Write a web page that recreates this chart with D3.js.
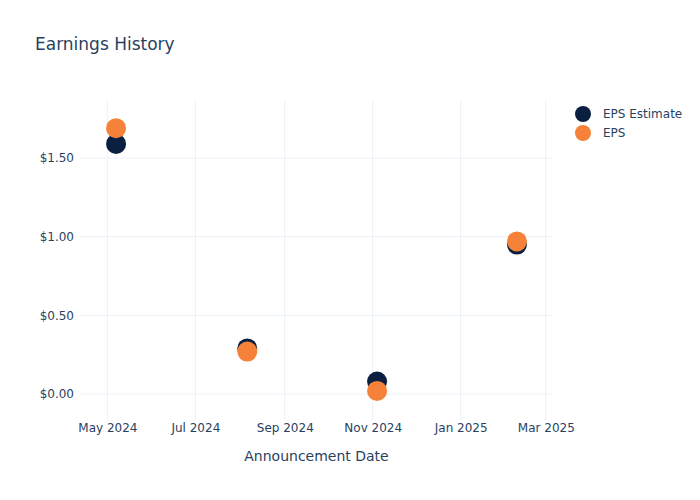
<!DOCTYPE html>
<html>
<head>
    <title>Earnings History - D3.js</title>
    <script src="https://d3js.org/d3.v7.min.js"></script>
    <style>
        body { margin: 0; background: #fff; }
        svg text { font-family: "DejaVu Sans", Verdana, sans-serif; fill: #2a3f5f; }
        .grid line { stroke: #EBF0F8; stroke-width: 1; }
    </style>
</head>
<body>
<div id="chart"></div>
<script>
    // Data
    const dates = ["2024-05-07", "2024-08-06", "2024-11-04", "2025-02-09"];
    const epsEstimate = [1.59, 0.29, 0.08, 0.95];
    const eps = [1.69, 0.27, 0.02, 0.97];
    const seriesNames = ["EPS Estimate", "EPS"];
    const seriesColors = ["#0B1F41", "#F6823A"];
    const yTicks = [0, 0.5, 1, 1.5];
    const xTicks = ["2024-05-01", "2024-07-01", "2024-09-01", "2024-11-01", "2025-01-01", "2025-03-01"];

    const parse = d3.timeParse("%Y-%m-%d");
    const W = 700, H = 500;
    const margin = { top: 100, right: 147, bottom: 80, left: 80 };
    const iw = W - margin.left - margin.right;
    const ih = H - margin.top - margin.bottom;

    const svg = d3.select("#chart").append("svg")
        .attr("width", W).attr("height", H);

    const g = svg.append("g")
        .attr("transform", `translate(${margin.left},${margin.top})`);

    const x = d3.scaleTime()
        .domain([parse("2024-04-12"), parse("2025-03-06")])
        .range([0, iw]);

    const y = d3.scaleLinear()
        .domain([-0.165, 1.869])
        .range([ih, 0]);

    // gridlines
    const grid = g.append("g").attr("class", "grid");
    grid.selectAll(".vx").data(xTicks).enter().append("line")
        .attr("x1", d => x(parse(d))).attr("x2", d => x(parse(d)))
        .attr("y1", 0).attr("y2", ih);
    grid.selectAll(".hy").data(yTicks).enter().append("line")
        .attr("x1", 0).attr("x2", iw)
        .attr("y1", d => y(d)).attr("y2", d => y(d))
        .attr("stroke-width", d => d === 0 ? 2 : 1);

    // axes (tick labels only)
    const fmtMoney = d => "$" + d3.format(".2f")(d);
    const yAxis = g.append("g")
        .call(d3.axisLeft(y).tickValues(yTicks).tickFormat(fmtMoney).tickSize(0).tickPadding(6));
    yAxis.select(".domain").remove();
    yAxis.selectAll("text").attr("font-size", 12).style("fill", "#2a3f5f")
        .style("font-family", "'DejaVu Sans', sans-serif");

    const xAxis = g.append("g")
        .attr("transform", `translate(0,${ih})`)
        .call(d3.axisBottom(x).tickValues(xTicks.map(parse)).tickFormat(d3.timeFormat("%b %Y")).tickSize(0).tickPadding(3));
    xAxis.select(".domain").remove();
    xAxis.selectAll("text").attr("font-size", 12).style("fill", "#2a3f5f")
        .style("font-family", "'DejaVu Sans', sans-serif");

    // points
    const series = [epsEstimate, eps];
    series.forEach((vals, si) => {
        g.selectAll(".s" + si).data(vals).enter().append("circle")
            .attr("cx", (d, i) => x(parse(dates[i])))
            .attr("cy", d => y(d))
            .attr("r", 10)
            .attr("fill", seriesColors[si]);
    });

    // title
    svg.append("text")
        .attr("x", 35).attr("y", 50)
        .attr("font-size", 17)
        .text("Earnings History");

    // x axis title
    svg.append("text")
        .attr("x", margin.left + iw / 2).attr("y", 461)
        .attr("text-anchor", "middle")
        .attr("font-size", 14)
        .text("Announcement Date");

    // legend
    const legend = svg.append("g").attr("transform", "translate(583,114)");
    seriesNames.forEach((name, i) => {
        const row = legend.append("g").attr("transform", `translate(0,${i * 19})`);
        row.append("circle").attr("r", 8).attr("fill", seriesColors[i]);
        row.append("text").attr("x", 20).attr("dy", "0.35em")
            .attr("font-size", 12).text(name);
    });
</script>
</body>
</html>
